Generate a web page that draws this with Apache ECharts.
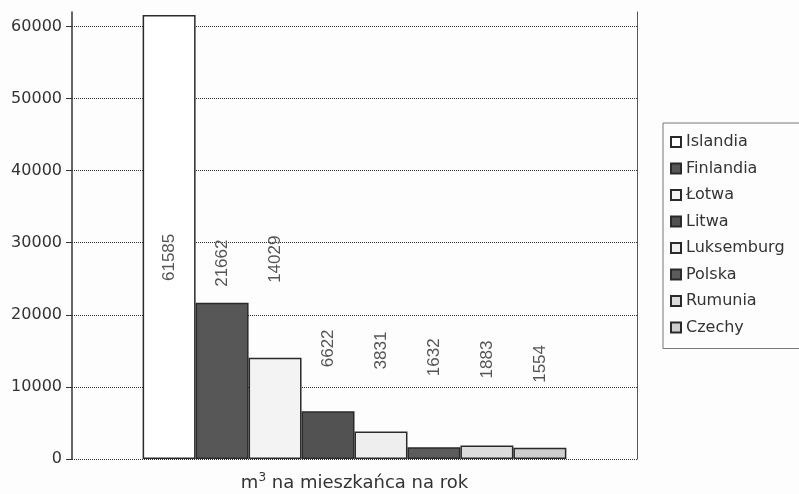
<!DOCTYPE html>
<html><head><meta charset="utf-8">
<script src="https://cdn.jsdelivr.net/npm/echarts@6/dist/echarts.min.js"></script>
<style>html,body{margin:0;padding:0;background:#fdfdfd}#c{width:799px;height:494px}</style>
</head><body><div id="c"></div>
<script>
const countries = ['Islandia','Finlandia','Łotwa','Litwa','Luksemburg','Polska','Rumunia','Czechy'];
const values = [61585, 21662, 14029, 6622, 3831, 1632, 1883, 1554];
const categories = [''];
const yTickLabels = ['0','10000','20000','30000','40000','50000','60000'];
const axisTitle = 'm{s|3} na mieszkańca na rok';

// styles (not data)
const fills = ['#ffffff','#575757','#f3f3f3','#525252','#eeeeee','#5c5c5c','#dcdcdc','#cecece'];
const labelDist = [-266, 16, 75, 44, 62, 71, 67, 65];

const chart = echarts.init(document.getElementById('c'));
const font = 'DejaVu Sans';
chart.setOption({
  backgroundColor: '#fdfdfd',
  animation: false,
  grid: {left: 72, right: 162, top: 12, bottom: 35, outerBoundsMode: 'none', containLabel: false},
  legend: {
    orient: 'vertical', left: 663, top: 123,
    padding: [11, 30, 13, 7],
    itemWidth: 10, itemHeight: 10, itemGap: 10.5,
    borderColor: '#777', borderWidth: 1,
    icon: 'rect',
    textStyle: {fontFamily: font, fontSize: 16, color: '#333'},
    data: countries
  },
  xAxis: {
    type: 'category', data: categories,
    axisLine: {show: false}, axisTick: {show: false}, axisLabel: {show: false},
    name: axisTitle, nameLocation: 'middle', nameGap: 13,
    nameTextStyle: {fontFamily: font, fontSize: 18, color: '#333',
      rich: {s: {fontFamily: font, fontSize: 12, color: '#333', verticalAlign: 'bottom', padding: [0, 0, 10, 0]}}}
  },
  yAxis: [{
    type: 'value', min: 0, max: 62000, interval: 10000,
    axisLine: {show: true, lineStyle: {color: '#333', width: 1.5}},
    axisTick: {show: true, length: 6, lineStyle: {color: '#333'}},
    axisLabel: {margin: 10, fontFamily: font, fontSize: 16, color: '#333', showMaxLabel: false,
      formatter: v => { const i = v / 10000; return Number.isInteger(i) && yTickLabels[i] !== undefined ? yTickLabels[i] : ''; }},
    splitLine: {show: true, showMaxLine: false, lineStyle: {color: '#333', width: 1, type: [1, 1]}}
  }, {
    type: 'value', min: 0, max: 62000, position: 'right',
    axisLine: {show: true, lineStyle: {color: '#555', width: 1}},
    axisTick: {show: false}, axisLabel: {show: false}, splitLine: {show: false}
  }],
  series: countries.map((name, i) => ({
    name, type: 'bar', data: [values[i]],
    barGap: '0%', barCategoryGap: '25%',
    itemStyle: {color: fills[i], borderColor: '#2a2a2a', borderWidth: 1.5},
    label: {
      show: true, position: 'top', distance: labelDist[i], rotate: 90,
      align: 'left', verticalAlign: 'middle',
      fontFamily: 'Liberation Sans', fontSize: 17, color: '#555'
    }
  }))
});
</script></body></html>
